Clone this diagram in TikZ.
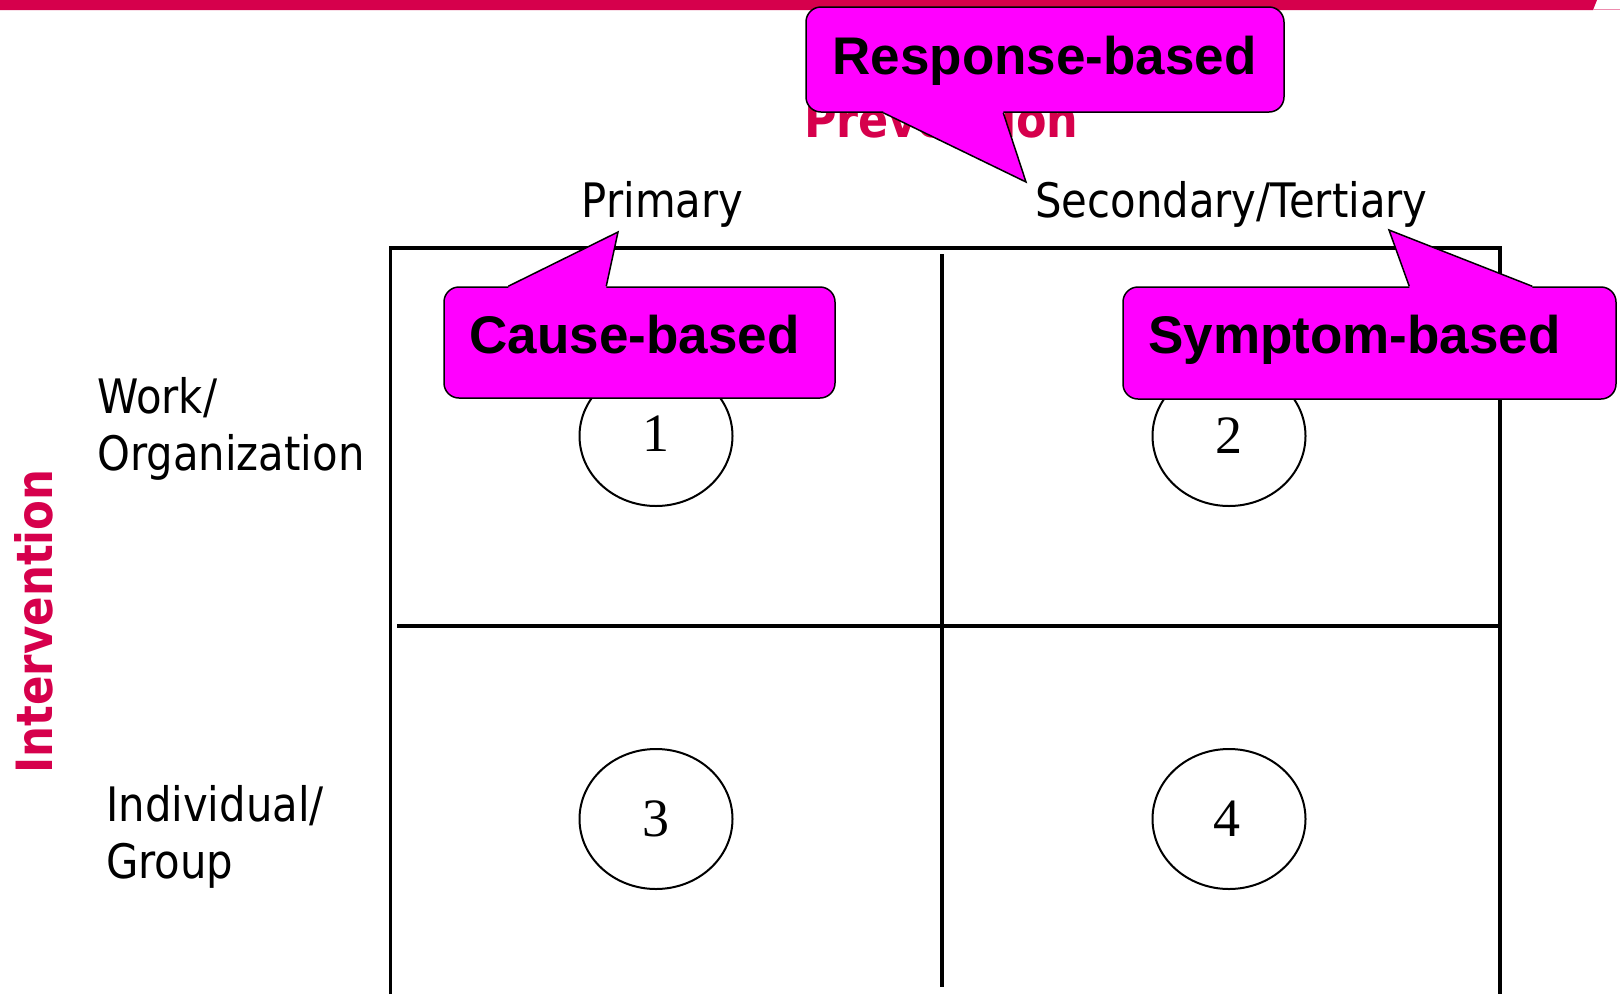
\documentclass[tikz,border=0pt]{standalone}
\usepackage{fontspec}
\setmainfont{Liberation Serif}
\newfontfamily\labelfont{DejaVu Sans}[FakeStretch=0.88]
\newfontfamily\titlefont{DejaVu Sans}[FakeStretch=0.89]
\newfontfamily\sidefont{DejaVu Sans}[FakeStretch=0.87]
\newfontfamily\calloutfont{Liberation Sans}
\usetikzlibrary{shapes.geometric,calc}
\definecolor{brandred}{RGB}{214,0,76}
\definecolor{calloutfill}{RGB}{255,0,255}

\begin{document}
\begin{tikzpicture}[x=1pt,y=-1pt,
  gridline/.style={line width=3.4pt,black},
  cellmark/.style={draw,ellipse,line width=2pt,minimum width=153pt,minimum height=140pt,
    inner sep=0pt,font=\fontsize{54}{54}\selectfont},
  axislabel/.style={font=\labelfont\fontsize{47.5}{57}\selectfont,inner sep=0pt},
  redbold/.style={font=\bfseries\fontsize{50}{50}\selectfont,text=brandred,inner sep=0pt},
  callbox/.style={draw=black,fill=calloutfill,line width=1.5pt,rounded corners=15pt,inner sep=0pt},
  calltext/.style={font=\calloutfont\bfseries\fontsize{53}{53}\selectfont,inner sep=0pt},
  tailline/.style={draw=black,line width=1.5pt,line join=miter}]

\useasboundingbox (0,0) rectangle (1620,994);
\fill[white] (0,0) rectangle (1620,994);

% top bar
\fill[brandred] (0,0) -- (1597,0) -- (1593,10) -- (0,10) -- cycle;
\draw[brandred!45,line width=1.2pt] (1593,9.4) -- (1620,9.4);

% two-by-two grid
\coordinate (gbl) at (390.6,994);
\coordinate (gtl) at (390.6,248);
\coordinate (gtr) at (1500,248);
\coordinate (gbr) at (1500,994);
\coordinate (gmt) at (942,254);
\coordinate (gmb) at (942,987);
\coordinate (gml) at (397,626);
\coordinate (gmr) at (1500,626);
\draw[gridline] (gbl) -- (gtl) -- (gtr) -- (gbr);
\draw[gridline] (gmt) -- (gmb);
\draw[gridline] (gml) -- (gmr);

% cells
\node[cellmark] (c1) at (656,436) {\raisebox{4pt}{1}};
\node[cellmark] (c2) at (1229,436) {2};
\node[cellmark] (c3) at (656,819) {3};
\node[cellmark] (c4) at (1229,819) {\hspace*{-4pt}4};

% axis labels
\node[axislabel,anchor=base west] (primary) at (581.7,217) {Primary};
\node[axislabel,anchor=base west] (sectert) at (1035,217) {Secondary/Tertiary};
\node[axislabel,anchor=base west] (work) at (97,413) {Work/};
\node[axislabel,anchor=base west] (org) at (97,470) {Organization};
\node[axislabel,anchor=base west] (indiv) at (106,821.5) {Individual/};
\node[axislabel,anchor=base west] (group) at (106,878) {Group};

\node[redbold,font=\titlefont\bfseries\fontsize{50}{50}\selectfont,anchor=base west] (prevention) at (804,137) {Prevention};
\node[redbold,font=\sidefont\bfseries\fontsize{50}{50}\selectfont,rotate=90,anchor=base] (intervention) at (52,621.5) {Intervention};

% callout: Response-based
\node[callbox,minimum width=478pt,minimum height=105pt] (respbox) at (1045,59.5) {};
\coordinate (resptip) at (1026,182);
\fill[calloutfill] ($(respbox.south west)+(78,0)$) -- (resptip) -- ($(respbox.south west)+(198,0)$)
  -- ($(respbox.south west)+(198,-3)$) -- ($(respbox.south west)+(78,-3)$) -- cycle;
\draw[tailline] ($(respbox.south west)+(78,0)$) -- (resptip) -- ($(respbox.south west)+(198,0)$);
\node[calltext,anchor=base] (resptext) at (1044.5,74) {Response-based};

% callout: Cause-based
\node[callbox,minimum width=391pt,minimum height=111pt] (causebox) at (639.5,342.5) {};
\coordinate (causetip) at (618,232);
\fill[calloutfill] ($(causebox.north west)+(65,0)$) -- (causetip) -- ($(causebox.north west)+(163,0)$)
  -- ($(causebox.north west)+(163,3)$) -- ($(causebox.north west)+(65,3)$) -- cycle;
\draw[tailline] ($(causebox.north west)+(65,0)$) -- (causetip) -- ($(causebox.north west)+(163,0)$);
\node[calltext,anchor=base] (causetext) at (634.5,353) {Cause-based};

% callout: Symptom-based
\node[callbox,minimum width=493pt,minimum height=112pt] (sympbox) at (1369.5,343) {};
\coordinate (symptip) at (1389,230);
\fill[calloutfill] ($(sympbox.north west)+(287,0)$) -- (symptip) -- ($(sympbox.north west)+(410,0)$)
  -- ($(sympbox.north west)+(410,3)$) -- ($(sympbox.north west)+(287,3)$) -- cycle;
\draw[tailline] ($(sympbox.north west)+(287,0)$) -- (symptip) -- ($(sympbox.north west)+(410,0)$);
\node[calltext,anchor=base] (symptext) at (1354.5,353) {Symptom-based};

\end{tikzpicture}
\end{document}
